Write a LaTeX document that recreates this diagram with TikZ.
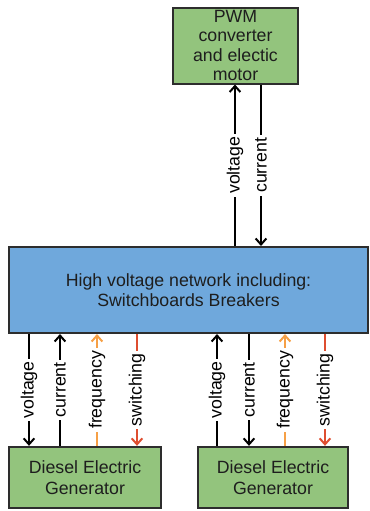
\documentclass[tikz,border=0pt]{standalone}
\usepackage{fontspec}
\setmainfont{Liberation Sans}
\usetikzlibrary{arrows.meta,positioning}
\usepackage{xcolor}

\definecolor{boxgreen}{RGB}{147,196,125}
\definecolor{boxblue}{RGB}{111,168,220}
\definecolor{freqorange}{RGB}{246,160,70}
\definecolor{switchred}{RGB}{222,78,48}
\definecolor{edgegray}{RGB}{45,45,45}
\definecolor{textgray}{RGB}{30,30,30}

\begin{document}
\begin{tikzpicture}[x=0.75pt,y=-0.75pt,
    box/.style={draw=edgegray, line width=1.5pt, align=center, inner sep=0pt, text=textgray,
        font=\fontsize{13.3}{14.6}\selectfont},
    sig/.style={line width=1.5pt, -{Straight Barb[length=4.5pt,width=8pt]}},
    lab/.style={midway, rotate=90, fill=white, inner sep=2pt, text=black,
        font=\fontsize{13.3}{14}\selectfont}]

    \useasboundingbox (0,0) rectangle (370,511);

    %boxes
    \node[box, fill=boxgreen, minimum width=94pt, minimum height=57pt] (motor) at (235.5,45.5) {PWM\\converter\\and electic\\motor};
    \node[box, fill=boxblue, minimum width=269pt, minimum height=64.5pt] (hv) at (188.5,290) {High voltage network including:\\Switchboards Breakers};
    \node[box, fill=boxgreen, minimum width=114pt, minimum height=46pt, font=\fontsize{13.3}{15.8}\selectfont] (genA) at (85,477.5) {Diesel Electric\\Generator};
    \node[box, fill=boxgreen, minimum width=112.5pt, minimum height=46pt, font=\fontsize{13.3}{15.8}\selectfont] (genB) at (273,477.5) {Diesel Electric\\Generator};

    %line positions
    \coordinate (vM) at (235,0);
    \coordinate (cM) at (261,0);
    \coordinate (vA) at (29,0);
    \coordinate (cA) at (60,0);
    \coordinate (fA) at (97,0);
    \coordinate (sA) at (137,0);
    \coordinate (vB) at (217,0);
    \coordinate (cB) at (249,0);
    \coordinate (fB) at (285,0);
    \coordinate (sB) at (325,0);

    %motor side
    \draw[sig] (hv.north -| vM) -- (motor.south -| vM) node[lab] {voltage};
    \draw[sig] (motor.south -| cM) -- (hv.north -| cM) node[lab] {current};

    %first generator
    \draw[sig] (hv.south -| vA) -- (genA.north -| vA) node[lab] {voltage};
    \draw[sig] (genA.north -| cA) -- (hv.south -| cA) node[lab] {current};
    \draw[sig, freqorange] (genA.north -| fA) -- (hv.south -| fA) node[lab] {frequency};
    \draw[sig, switchred] (hv.south -| sA) -- (genA.north -| sA) node[lab] {switching};

    %second generator
    \draw[sig] (genB.north -| vB) -- (hv.south -| vB) node[lab] {voltage};
    \draw[sig] (hv.south -| cB) -- (genB.north -| cB) node[lab] {current};
    \draw[sig, freqorange] (genB.north -| fB) -- (hv.south -| fB) node[lab] {frequency};
    \draw[sig, switchred] (hv.south -| sB) -- (genB.north -| sB) node[lab] {switching};

\end{tikzpicture}
\end{document}
